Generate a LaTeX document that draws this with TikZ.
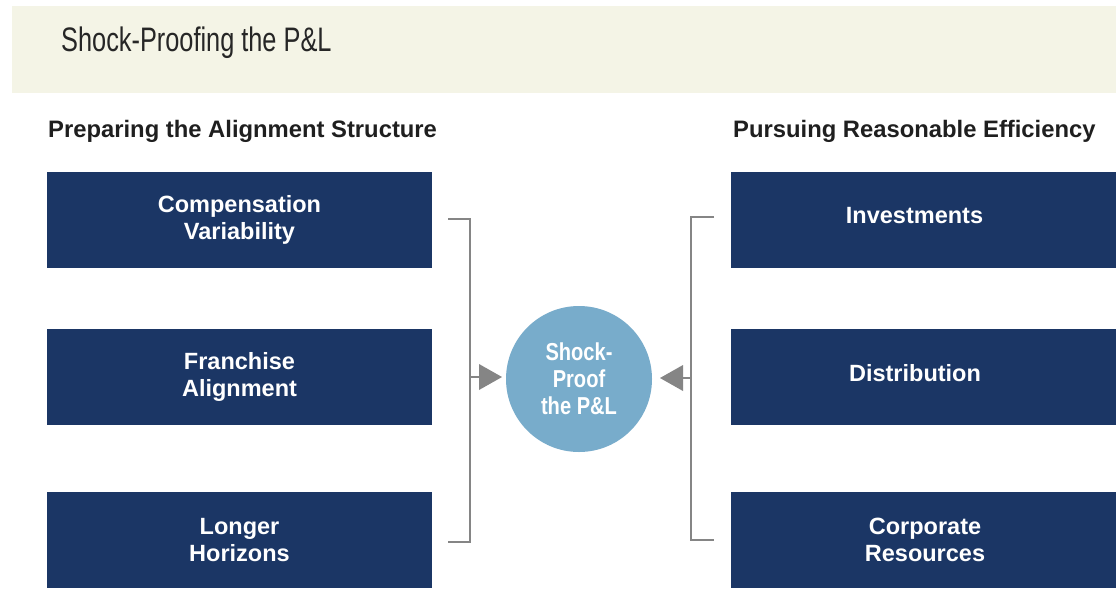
\documentclass[tikz,border=0pt]{standalone}
\usepackage{fontspec}
\setmainfont{Liberation Sans}
\newfontfamily\condfont[FakeStretch=0.745]{Liberation Sans}
\newfontfamily\condbold[FakeStretch=0.82]{Liberation Sans}
\usetikzlibrary{arrows.meta}
\definecolor{navy}{HTML}{1B3665}
\definecolor{band}{HTML}{F4F4E6}
\definecolor{bubble}{HTML}{78ACCB}
\definecolor{linegray}{HTML}{858585}
\begin{document}
\begin{tikzpicture}[x=1pt,y=-1pt,
  box/.style={fill=navy,draw=none,minimum width=385pt,minimum height=96pt,inner sep=0pt},
  boxtext/.style={text=white,font=\fontsize{23.5}{26.5}\selectfont\bfseries,align=center},
  heading/.style={font=\fontsize{23.8}{26}\selectfont\bfseries,text=black!88,anchor=west,inner sep=0pt},
  brace/.style={draw=linegray,line width=2pt},
  tip/.style={draw=none,fill=linegray}]
\useasboundingbox (0,0) rectangle (1116,611);
\fill[white] (0,0) rectangle (1116,611);
\fill[band] (12,6) rectangle (1116,93);
\node[anchor=base west,inner sep=0pt,font=\condfont\fontsize{34}{36}\selectfont,text=black!85] (title) at (61,51) {Shock-Proofing the P\&L};
\node[heading] (lh) at (48,131) {Preparing the Alignment Structure};
\node[heading] (rh) at (733,131) {Pursuing Reasonable Efficiency};
% left boxes
\node[box] (l1) at (239.5,220) {};
\node[box] (l2) at (239.5,377) {};
\node[box] (l3) at (239.5,540) {};
\node[boxtext] at (l1) {Compensation\\Variability};
\node[boxtext] at (l2) {Franchise\\Alignment};
\node[boxtext] at (l3) {Longer\\Horizons};
% right boxes
\node[box] (r1) at (923.5,220) {};
\node[box] (r2) at (923.5,377) {};
\node[box] (r3) at (923.5,540) {};
\node[boxtext] at (914.5,216) {Investments};
\node[boxtext] at (915,373) {Distribution};
\node[boxtext] at (925,540) {Corporate\\Resources};
% centre
\node[circle,fill=bubble,minimum size=146pt,inner sep=0pt] (c) at (579,379) {};
\node[text=white,font=\condbold\fontsize{24.5}{27}\selectfont\bfseries,align=center] at (c) {Shock-\\Proof\\the P\&L};
% left bracket
\coordinate (lt) at (448,219);
\coordinate (lb) at (448,542);
\coordinate (lm) at (470,377);
\draw[brace] (lt) -- (470,219) -- (470,542) -- (lb);
\draw[brace] (lm) -- (480,377);
\fill[tip] (479,364) -- (502,377) -- (479,390) -- cycle;
% right bracket
\coordinate (rt) at (714,217);
\coordinate (rb) at (714,540);
\coordinate (rm) at (691,378);
\draw[brace] (rt) -- (691,217) -- (691,540) -- (rb);
\draw[brace] (rm) -- (682,378);
\fill[tip] (683,365) -- (660,378) -- (683,391) -- cycle;
\end{tikzpicture}
\end{document}
